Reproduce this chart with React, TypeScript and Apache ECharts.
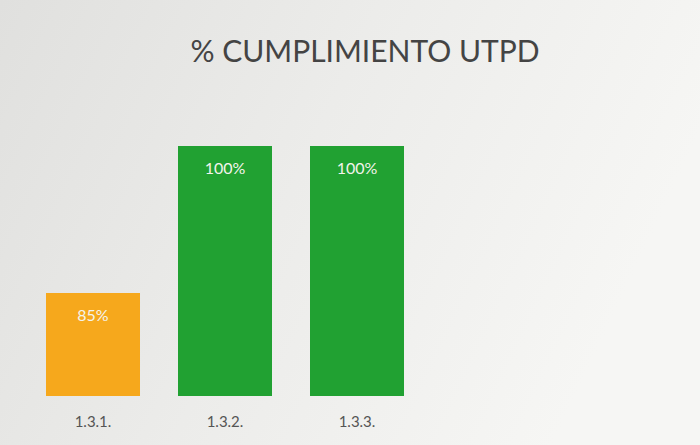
import React, { useEffect, useRef } from "react";
import * as echarts from "echarts";

const categories = ["1.3.1.", "1.3.2.", "1.3.3."];
const values = [85, 100, 100];
const barColors = ["#F6A81C", "#21A132", "#21A132"];
const titleText = "% CUMPLIMIENTO UTPD";

export default function App() {
  const ref = useRef<HTMLDivElement>(null);
  useEffect(() => {
    document.body.style.margin = "0";
    const chart = echarts.init(ref.current!, null, { renderer: "svg" });
    chart.setOption({
      animation: false,
      backgroundColor: {
        type: "linear",
        x: 0,
        y: 0,
        x2: 1,
        y2: 0.3,
        colorStops: [
          { offset: 0, color: "#e0e0de" },
          { offset: 0.5, color: "#ececea" },
          { offset: 1, color: "#f6f6f4" },
        ],
      },
      title: {
        text: titleText,
        left: 360,
        textAlign: "center",
        top: 30,
        textStyle: {
          fontFamily: "Lato",
          fontWeight: "normal",
          fontSize: 30,
          color: "#444444",
        },
      },
      grid: { left: 27, right: 277, top: 146, bottom: 49 },
      xAxis: {
        type: "category",
        data: categories,
        axisLine: { show: false },
        axisTick: { show: false },
        axisLabel: {
          color: "#555",
          fontSize: 15,
          fontFamily: "Lato",
          margin: 17,
        },
      },
      yAxis: {
        type: "value",
        min: 74.5,
        max: 100,
        show: false,
        splitLine: { show: false },
      },
      series: [
        {
          type: "bar",
          barWidth: 94,
          data: values.map((v, i) => ({ value: v, itemStyle: { color: barColors[i] } })),
          label: {
            show: true,
            position: "insideTop",
            distance: 13,
            formatter: "{c}%",
            color: "#f4f4ec",
            fontSize: 16,
            fontFamily: "Lato",
          },
        },
      ],
    });
    return () => chart.dispose();
  }, []);
  return <div ref={ref} style={{ width: 700, height: 445 }} />;
}
